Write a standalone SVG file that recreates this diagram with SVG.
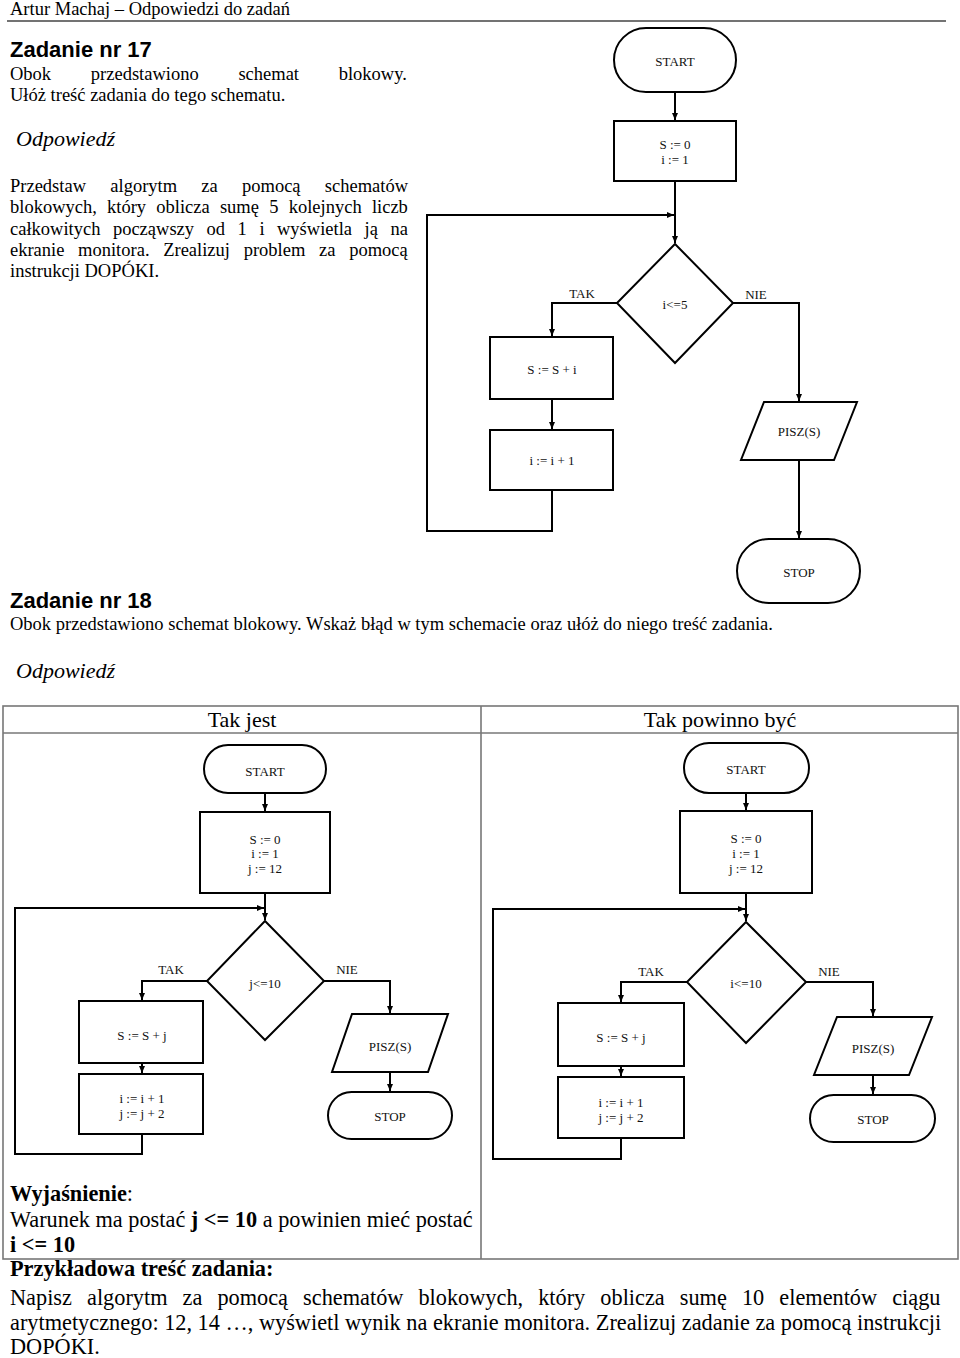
<svg xmlns="http://www.w3.org/2000/svg" width="960" height="1358" viewBox="0 0 960 1358">
<defs>
<style>
.t{font-family:"Liberation Serif","Times New Roman",serif;fill:#000}
.b{font-family:"Liberation Sans",Arial,sans-serif;font-weight:bold;fill:#000}
.fc{font-family:"Liberation Serif","Times New Roman",serif;font-size:13px;fill:#111;text-anchor:middle}
.sh{fill:#fff;stroke:#000;stroke-width:2}
.cn{fill:none;stroke:#000;stroke-width:2}
.tb{fill:none;stroke:#777;stroke-width:1.6}
</style>
<marker id="ar" markerUnits="userSpaceOnUse" markerWidth="8" markerHeight="7" refX="7" refY="3.5" orient="auto">
<path d="M0,0.5 L7,3.5 L0,6.5 z" fill="#000"/>
</marker>
</defs>
<rect width="960" height="1358" fill="#fff"/>

<!-- header -->
<text class="t" x="10" y="15" font-size="18.5">Artur Machaj – Odpowiedzi do zadań</text>
<line x1="7" y1="21" x2="946" y2="21" stroke="#444" stroke-width="1.5"/>

<!-- Zadanie 17 text -->
<text class="b" x="10" y="57" font-size="22">Zadanie nr 17</text>
<text class="t" y="80" font-size="18.5"><tspan x="10">Obok</tspan><tspan x="90.8">przedstawiono</tspan><tspan x="238.4">schemat</tspan><tspan x="338.7">blokowy.</tspan></text>
<text class="t" x="10" y="101" font-size="18.5">Ułóż treść zadania do tego schematu.</text>
<text class="t" x="16" y="146" font-size="22" font-style="italic">Odpowiedź</text>
<text class="t" y="192" font-size="18.5"><tspan x="10">Przedstaw</tspan><tspan x="110.3">algorytm</tspan><tspan x="201.3">za</tspan><tspan x="242">pomocą</tspan><tspan x="324.8">schematów</tspan></text>
<text class="t" y="213" font-size="18.5"><tspan x="10">blokowych,</tspan><tspan x="107">który</tspan><tspan x="156.3">oblicza</tspan><tspan x="219.9">sumę</tspan><tspan x="269.2">5</tspan><tspan x="288.7">kolejnych</tspan><tspan x="371.9">liczb</tspan></text>
<text class="t" y="235" font-size="18.5"><tspan x="10">całkowitych</tspan><tspan x="112.9">począwszy</tspan><tspan x="206.6">od</tspan><tspan x="237.6">1</tspan><tspan x="259.4">i</tspan><tspan x="277">wyświetla</tspan><tspan x="364.5">ją</tspan><tspan x="390.4">na</tspan></text>
<text class="t" y="256" font-size="18.5"><tspan x="10">ekranie</tspan><tspan x="78.1">monitora.</tspan><tspan x="163.2">Zrealizuj</tspan><tspan x="243.7">problem</tspan><tspan x="319.1">za</tspan><tspan x="349.2">pomocą</tspan></text>
<text class="t" x="10" y="277" font-size="18.5">instrukcji DOPÓKI.</text>

<!-- Top flowchart connectors -->
<g id="connectors-top">
<line class="cn" x1="675" y1="92" x2="675" y2="120" marker-end="url(#ar)"/>
<line class="cn" x1="675" y1="181" x2="675" y2="243" marker-end="url(#ar)"/>
<polyline class="cn" points="552,490 552,531 427,531 427,215 674,215" marker-end="url(#ar)"/>
<polyline class="cn" points="617,303 552,303 552,336" marker-end="url(#ar)"/>
<line class="cn" x1="552" y1="399" x2="552" y2="429" marker-end="url(#ar)"/>
<polyline class="cn" points="733,303 799,303 799,401" marker-end="url(#ar)"/>
<line class="cn" x1="799" y1="460" x2="799" y2="538" marker-end="url(#ar)"/>
<text class="fc" x="582" y="298">TAK</text>
<text class="fc" x="756" y="299">NIE</text>
</g>
<g id="t-start"><rect class="sh" x="614" y="28" width="122" height="64" rx="32"/><text class="fc" x="675" y="66">START</text></g>
<g id="t-init"><rect class="sh" x="614" y="121" width="122" height="60"/><text class="fc" x="675" y="149">S := 0</text><text class="fc" x="675" y="164">i := 1</text></g>
<g id="t-cond"><polygon class="sh" points="675,244 733,303 675,363 617,303"/><text class="fc" x="675" y="309">i&lt;=5</text></g>
<g id="t-sum"><rect class="sh" x="490" y="337" width="123" height="62"/><text class="fc" x="552" y="373.5">S := S + i</text></g>
<g id="t-inc"><rect class="sh" x="490" y="430" width="123" height="60"/><text class="fc" x="552" y="465">i := i + 1</text></g>
<g id="t-print"><polygon class="sh" points="764,402 857,402 834,460 741,460"/><text class="fc" x="799" y="436">PISZ(S)</text></g>
<g id="t-stop"><rect class="sh" x="737" y="539" width="123" height="64" rx="32"/><text class="fc" x="799" y="576.5">STOP</text></g>

<!-- Zadanie 18 text -->
<text class="b" x="10" y="608" font-size="22">Zadanie nr 18</text>
<text class="t" x="10" y="630" font-size="18.5">Obok przedstawiono schemat blokowy. Wskaż błąd w tym schemacie oraz ułóż do niego treść zadania.</text>
<text class="t" x="16" y="678" font-size="22" font-style="italic">Odpowiedź</text>

<!-- Table -->
<g id="table">
<rect class="tb" x="3" y="706" width="955" height="553"/>
<line class="tb" x1="3" y1="733" x2="958" y2="733"/>
<line class="tb" x1="481" y1="706" x2="481" y2="1259"/>
<text class="t" x="242" y="727" font-size="22" text-anchor="middle">Tak jest</text>
<text class="t" x="720" y="727" font-size="22" text-anchor="middle">Tak powinno być</text>
</g>

<!-- Left flowchart connectors -->
<g id="connectors-left">
<line class="cn" x1="265" y1="793" x2="265" y2="811" marker-end="url(#ar)"/>
<line class="cn" x1="265" y1="893" x2="265" y2="920" marker-end="url(#ar)"/>
<polyline class="cn" points="142,1134 142,1154 15,1154 15,908 264,908" marker-end="url(#ar)"/>
<polyline class="cn" points="207,981 142,981 142,1000" marker-end="url(#ar)"/>
<line class="cn" x1="142" y1="1063" x2="142" y2="1073" marker-end="url(#ar)"/>
<polyline class="cn" points="324,981 390,981 390,1013" marker-end="url(#ar)"/>
<line class="cn" x1="390" y1="1072" x2="390" y2="1091" marker-end="url(#ar)"/>
<text class="fc" x="171" y="974">TAK</text>
<text class="fc" x="347" y="974">NIE</text>
</g>
<g id="l-start"><rect class="sh" x="204" y="745" width="122" height="48" rx="24"/><text class="fc" x="265" y="775.5">START</text></g>
<g id="l-init"><rect class="sh" x="200" y="812" width="130" height="81"/><text class="fc" x="265" y="843.5">S := 0</text><text class="fc" x="265" y="857.5">i := 1</text><text class="fc" x="265" y="872.5">j := 12</text></g>
<g id="l-cond"><polygon class="sh" points="265,921 324,981 265,1040 207,981"/><text class="fc" x="265" y="987.5">j&lt;=10</text></g>
<g id="l-sum"><rect class="sh" x="79" y="1001" width="124" height="62"/><text class="fc" x="142" y="1039.5">S := S + j</text></g>
<g id="l-inc"><rect class="sh" x="79" y="1074" width="124" height="60"/><text class="fc" x="142" y="1102.5">i := i + 1</text><text class="fc" x="142" y="1117.5">j := j + 2</text></g>
<g id="l-print"><polygon class="sh" points="352,1014 448,1014 428,1072 332,1072"/><text class="fc" x="390" y="1050.5">PISZ(S)</text></g>
<g id="l-stop"><rect class="sh" x="328" y="1092" width="124" height="47" rx="23.5"/><text class="fc" x="390" y="1120.5">STOP</text></g>

<!-- Right flowchart connectors -->
<g id="connectors-right">
<line class="cn" x1="746" y1="793" x2="746" y2="810" marker-end="url(#ar)"/>
<line class="cn" x1="746" y1="893" x2="746" y2="921" marker-end="url(#ar)"/>
<polyline class="cn" points="621,1138 621,1159 493,1159 493,909 745,909" marker-end="url(#ar)"/>
<polyline class="cn" points="687,982 621,982 621,1002" marker-end="url(#ar)"/>
<line class="cn" x1="621" y1="1066" x2="621" y2="1076" marker-end="url(#ar)"/>
<polyline class="cn" points="806,982 873,982 873,1016" marker-end="url(#ar)"/>
<line class="cn" x1="873" y1="1075" x2="873" y2="1094" marker-end="url(#ar)"/>
<text class="fc" x="651" y="976">TAK</text>
<text class="fc" x="829" y="976">NIE</text>
</g>
<g id="r-start"><rect class="sh" x="684" y="743" width="125" height="50" rx="25"/><text class="fc" x="746" y="773.5">START</text></g>
<g id="r-init"><rect class="sh" x="680" y="811" width="132" height="82"/><text class="fc" x="746" y="842.5">S := 0</text><text class="fc" x="746" y="857.5">i := 1</text><text class="fc" x="746" y="872.5">j := 12</text></g>
<g id="r-cond"><polygon class="sh" points="746,922 806,982 746,1043 687,982"/><text class="fc" x="746" y="987.5">i&lt;=10</text></g>
<g id="r-sum"><rect class="sh" x="558" y="1003" width="126" height="63"/><text class="fc" x="621" y="1041.5">S := S + j</text></g>
<g id="r-inc"><rect class="sh" x="558" y="1077" width="126" height="61"/><text class="fc" x="621" y="1106.5">i := i + 1</text><text class="fc" x="621" y="1121.5">j := j + 2</text></g>
<g id="r-print"><polygon class="sh" points="837,1017 932,1017 909,1075 814,1075"/><text class="fc" x="873" y="1052.5">PISZ(S)</text></g>
<g id="r-stop"><rect class="sh" x="810" y="1095" width="125" height="47" rx="23.5"/><text class="fc" x="873" y="1123.5">STOP</text></g>

<!-- Explanation -->
<text class="t" x="10" y="1201" font-size="22.3"><tspan font-weight="bold">Wyjaśnienie</tspan>:</text>
<text class="t" x="10" y="1227" font-size="22.3">Warunek ma postać <tspan font-weight="bold">j &lt;= 10</tspan> a powinien mieć postać</text>
<text class="t" x="10" y="1252" font-size="22.3" font-weight="bold">i &lt;= 10</text>
<text class="t" x="10" y="1276" font-size="22.3" font-weight="bold">Przykładowa treść zadania:</text>
<text class="t" x="10" y="1305" font-size="22.3" word-spacing="9.5">Napisz algorytm za pomocą schematów blokowych, który oblicza sumę 10 elementów ciągu</text>
<text class="t" x="10" y="1330" font-size="22.3">arytmetycznego: 12, 14 …, wyświetl wynik na ekranie monitora. Zrealizuj zadanie za pomocą instrukcji</text>
<text class="t" x="10" y="1354" font-size="22.3">DOPÓKI.</text>
</svg>
